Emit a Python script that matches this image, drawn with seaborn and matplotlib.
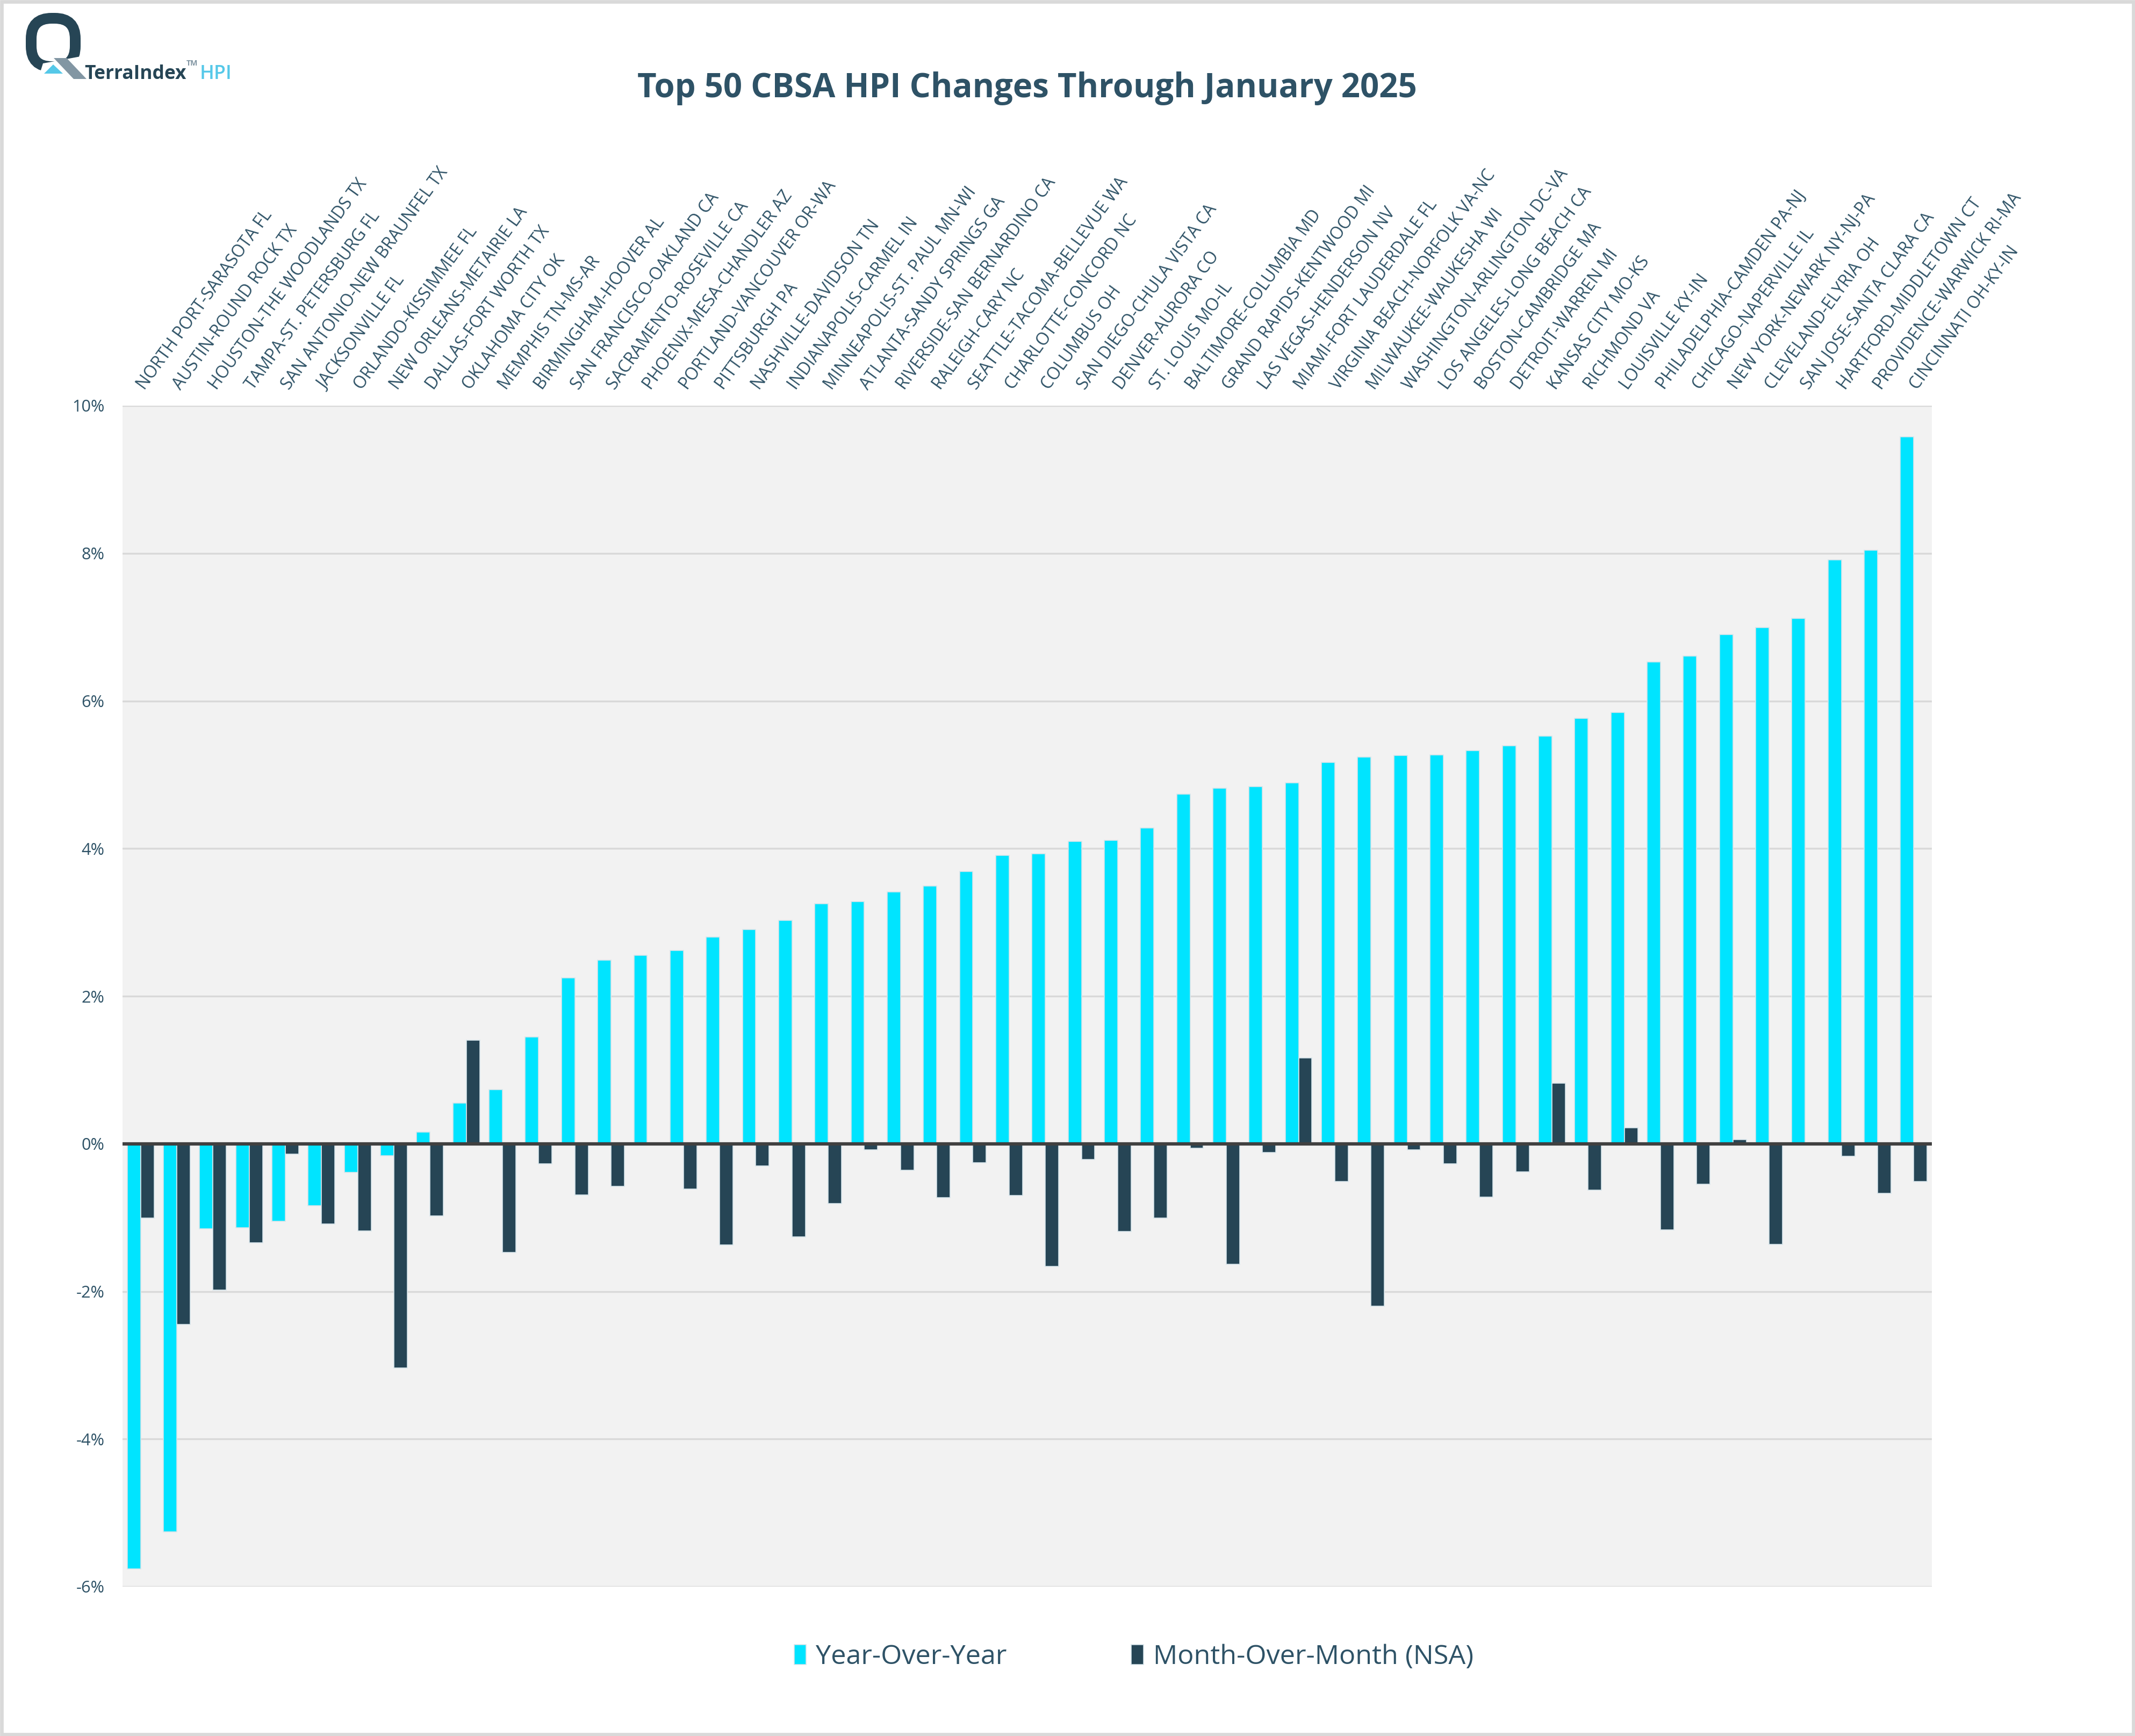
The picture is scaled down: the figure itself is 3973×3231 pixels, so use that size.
import numpy as np
import pandas as pd
import matplotlib
matplotlib.use("Agg")
import matplotlib.pyplot as plt
import seaborn as sns
from matplotlib.patches import FancyBboxPatch, Polygon, Rectangle
from matplotlib.ticker import FuncFormatter

# ---------------- data ----------------
cbsa = [
    "NORTH PORT-SARASOTA FL", "AUSTIN-ROUND ROCK TX", "HOUSTON-THE WOODLANDS TX",
    "TAMPA-ST. PETERSBURG FL", "SAN ANTONIO-NEW BRAUNFEL TX", "JACKSONVILLE FL",
    "ORLANDO-KISSIMMEE FL", "NEW ORLEANS-METAIRIE LA", "DALLAS-FORT WORTH TX",
    "OKLAHOMA CITY OK", "MEMPHIS TN-MS-AR", "BIRMINGHAM-HOOVER AL",
    "SAN FRANCISCO-OAKLAND CA", "SACRAMENTO-ROSEVILLE CA", "PHOENIX-MESA-CHANDLER AZ",
    "PORTLAND-VANCOUVER OR-WA", "PITTSBURGH PA", "NASHVILLE-DAVIDSON TN",
    "INDIANAPOLIS-CARMEL IN", "MINNEAPOLIS-ST. PAUL MN-WI", "ATLANTA-SANDY SPRINGS GA",
    "RIVERSIDE-SAN BERNARDINO CA", "RALEIGH-CARY NC", "SEATTLE-TACOMA-BELLEVUE WA",
    "CHARLOTTE-CONCORD NC", "COLUMBUS OH", "SAN DIEGO-CHULA VISTA CA",
    "DENVER-AURORA CO", "ST. LOUIS MO-IL", "BALTIMORE-COLUMBIA MD",
    "GRAND RAPIDS-KENTWOOD MI", "LAS VEGAS-HENDERSON NV", "MIAMI-FORT LAUDERDALE FL",
    "VIRGINIA BEACH-NORFOLK VA-NC", "MILWAUKEE-WAUKESHA WI", "WASHINGTON-ARLINGTON DC-VA",
    "LOS ANGELES-LONG BEACH CA", "BOSTON-CAMBRIDGE MA", "DETROIT-WARREN MI",
    "KANSAS CITY MO-KS", "RICHMOND VA", "LOUISVILLE KY-IN",
    "PHILADELPHIA-CAMDEN PA-NJ", "CHICAGO-NAPERVILLE IL", "NEW YORK-NEWARK NY-NJ-PA",
    "CLEVELAND-ELYRIA OH", "SAN JOSE-SANTA CLARA CA", "HARTFORD-MIDDLETOWN CT",
    "PROVIDENCE-WARWICK RI-MA", "CINCINNATI OH-KY-IN",
]

yoy = [-5.76, -5.26, -1.15, -1.14, -1.05, -0.84, -0.39, -0.16, 0.16, 0.55,
       0.73, 1.45, 2.25, 2.49, 2.55, 2.62, 2.80, 2.90, 3.03, 3.25,
       3.28, 3.41, 3.49, 3.69, 3.91, 3.93, 4.10, 4.11, 4.28, 4.74,
       4.82, 4.84, 4.89, 5.17, 5.24, 5.26, 5.27, 5.33, 5.39, 5.52,
       5.76, 5.84, 6.53, 6.61, 6.90, 6.99, 7.12, 7.91, 8.04, 9.58]

mom = [-1.01, -2.45, -1.98, -1.34, -0.14, -1.09, -1.18, -3.04, -0.98, 1.40,
       -1.47, -0.27, -0.69, -0.58, -0.02, -0.61, -1.37, -0.30, -1.26, -0.81,
       -0.08, -0.36, -0.73, -0.26, -0.70, -1.66, -0.21, -1.19, -1.01, -0.06,
       -1.63, -0.12, 1.16, -0.51, -2.20, -0.08, -0.27, -0.72, -0.38, 0.82,
       -0.63, 0.22, -1.17, -0.55, 0.06, -1.36, 0.00, -0.17, -0.67, -0.51]

series_names = ["Year-Over-Year", "Month-Over-Month (NSA)"]
y_ticks = [-6, -4, -2, 0, 2, 4, 6, 8, 10]
title = "Top 50 CBSA HPI Changes Through January 2025"

# ---------------- styling ----------------
CYAN = "#00E4FF"
DARK = "#264555"
TEXT = "#2E5266"
GRID = "#D9D9D9"
PLOT_BG = "#F2F2F2"

df = pd.DataFrame({
    "CBSA": cbsa + cbsa,
    "Series": [series_names[0]] * len(cbsa) + [series_names[1]] * len(cbsa),
    "Change": yoy + mom,
})

sns.set_theme(style="white")
plt.rcParams["font.family"] = ["Open Sans", "DejaVu Sans"]

W, H = 3973, 3231
fig = plt.figure(figsize=(W / 300, H / 300), dpi=300)
fig.patch.set_facecolor("white")

ax = fig.add_axes([228 / W, (H - 2953) / H, (3595 - 228) / W, (2953 - 755) / H])
ax.set_facecolor(PLOT_BG)

sns.barplot(data=df, x="CBSA", y="Change", hue="Series", order=cbsa,
            hue_order=series_names, palette=[CYAN, DARK], saturation=1,
            width=0.74, edgecolor="#D6E4EA", linewidth=0.4, ax=ax, zorder=2)

ax.set_ylim(-6, 10)
ax.set_yticks(y_ticks)
ax.yaxis.set_major_formatter(FuncFormatter(lambda v, p: f"{v:.0f}%"))
ax.grid(axis="y", color=GRID, linewidth=0.8, zorder=0)
ax.grid(axis="x", visible=False)
ax.set_axisbelow(True)
ax.axhline(0, color="#404040", linewidth=1.5, zorder=4)
for s in ax.spines.values():
    s.set_visible(False)

ax.xaxis.tick_top()
ax.set_xticks(range(len(cbsa)))
ax.set_xticklabels(cbsa, rotation=54, ha="left", va="center",
                   rotation_mode="anchor", fontsize=7.6, color=TEXT)
ax.tick_params(axis="x", length=0, pad=8)
ax.tick_params(axis="y", length=0, pad=8, labelsize=7.4, labelcolor=TEXT)
ax.set_xlabel("")
ax.set_ylabel("")

handles, labels = ax.get_legend_handles_labels()
if ax.get_legend() is not None:
    ax.get_legend().remove()
fig.legend(handles, labels, loc="center", bbox_to_anchor=(0.531, 0.0455),
           ncol=2, frameon=False, fontsize=12.1, labelcolor=TEXT,
           handlelength=0.45, handleheight=0.75, handletextpad=0.35,
           columnspacing=4.6)

fig.suptitle(title, x=0.481, y=0.949, va="center", fontsize=14.8,
             fontweight="bold", color=TEXT)

# ---------------- logo ----------------
lg = fig.add_axes([0, 1 - 170 / H, 470 / W, 170 / H])
lg.set_xlim(0, 470)
lg.set_ylim(170, 0)
lg.axis("off")
ring = FancyBboxPatch((58, 34), 82, 90, boxstyle="round,pad=0,rounding_size=38",
                      fill=False, edgecolor="#264555", linewidth=4.8)
lg.add_patch(ring)
lg.add_patch(Polygon([(70, 150), (80, 118), (150, 105), (175, 150)],
                     closed=True, facecolor="white", edgecolor="none"))
lg.add_patch(Polygon([(100, 108), (124, 108), (161, 147), (137, 147)],
                     closed=True, facecolor="#8296A3", edgecolor="none"))
lg.add_patch(Polygon([(82, 137), (117, 137), (99, 120)],
                     closed=True, facecolor="#55C8E8", edgecolor="none"))
lg.text(157, 147, "TerraIndex", fontsize=8.5, fontweight="bold",
        color="#264555", va="baseline", ha="left")
lg.text(347, 122, "TM", fontsize=3.4, fontweight="bold",
        color="#8296A3", va="baseline", ha="left")
lg.text(372, 147, "HPI", fontsize=8.6, fontweight="semibold",
        color="#55C8E8", va="baseline", ha="left")

# figure border
fig.patches.append(Rectangle((0.0008, 0.001), 0.9984, 0.998, transform=fig.transFigure,
                             fill=False, edgecolor="#D9D9D9", linewidth=1.6))

fig.savefig("out.png", dpi=300, facecolor="white")
